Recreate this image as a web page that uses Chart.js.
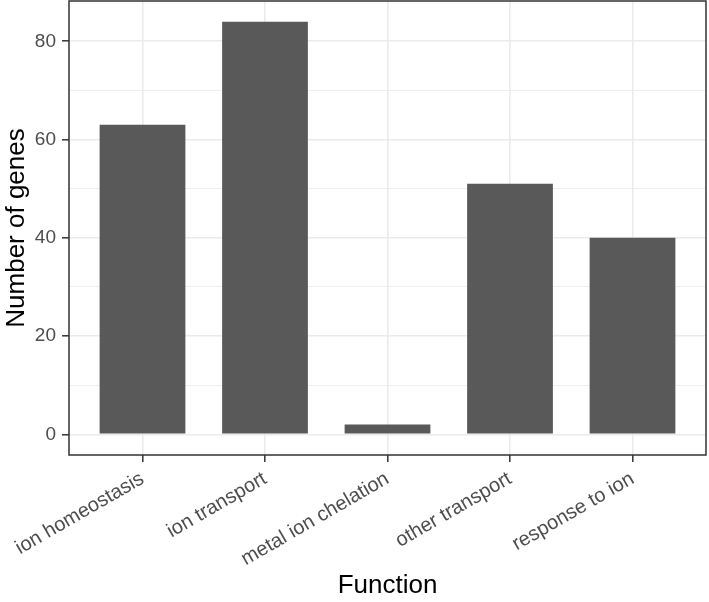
<!DOCTYPE html>
<html>
<head>
<meta charset="utf-8">
<script src="https://cdn.jsdelivr.net/npm/chart.js@4"></script>
<style>
  html, body { margin: 0; padding: 0; background: #fff; }
  #chart { display: block; }
</style>
</head>
<body>
<canvas id="chart" width="709" height="602"></canvas>
<script>
const categories = ['ion homeostasis', 'ion transport', 'metal ion chelation', 'other transport', 'response to ion'];
const geneCounts = [63, 84, 2, 51, 40];
const yTicks = [0, 10, 20, 30, 40, 50, 60, 70, 80];
const yLabels = [0, 20, 40, 60, 80];

const fontFamily = "'Liberation Sans', Arial, Helvetica, sans-serif";

// panel border like ggplot theme_bw
const panelBorder = {
  id: 'panelBorder',
  afterDraw(chart) {
    const a = chart.chartArea;
    const ctx = chart.ctx;
    ctx.save();
    ctx.strokeStyle = '#333333';
    ctx.lineWidth = 1.5;
    ctx.strokeRect(a.left, a.top, a.right - a.left, a.bottom - a.top);
    ctx.restore();
  }
};

const ctx = document.getElementById('chart').getContext('2d');
const myChart = new Chart(ctx, {
  type: 'bar',
  data: {
    datasets: [{
      data: categories.map((c, i) => ({ x: i + 1, y: geneCounts[i] })),
      backgroundColor: '#595959',
      borderWidth: 0,
      barPercentage: 0.7,
      categoryPercentage: 1
    }]
  },
  plugins: [panelBorder],
  options: {
    responsive: false,
    animation: false,
    devicePixelRatio: 1,
    layout: { padding: { top: 1, right: 3, left: 0, bottom: 0 } },
    plugins: { legend: { display: false }, tooltip: { enabled: false } },
    scales: {
      x: {
        type: 'linear',
        offset: false,
        min: 0.4,
        max: 5.6,
        afterBuildTicks: scale => { scale.ticks = categories.map((c, i) => ({ value: i + 1 })); },
        afterFit: scale => {
          scale.height = 147;
          scale.paddingLeft = 0;
          scale.paddingRight = 0;
        },
        border: { display: false },
        grid: {
          offset: false,
          color: '#ebebeb',
          lineWidth: 1.6,
          tickColor: '#333333',
          tickLength: 7,
          tickWidth: 1.5
        },
        ticks: {
          autoSkip: false,
          minRotation: 30,
          maxRotation: 30,
          padding: 5,
          color: '#4d4d4d',
          font: { family: fontFamily, size: 20 },
          callback: v => categories[v - 1]
        },
        title: {
          display: true,
          text: 'Function',
          color: '#000000',
          font: { family: fontFamily, size: 26 },
          padding: { top: 0, bottom: 1 }
        }
      },
      y: {
        type: 'linear',
        min: -4.2,
        max: 88.2,
        afterBuildTicks: scale => { scale.ticks = yTicks.map(v => ({ value: v })); },
        afterFit: scale => {
          scale.width = 69;
          scale.paddingTop = 0;
          scale.paddingBottom = 0;
        },
        border: { display: false },
        grid: {
          color: '#ebebeb',
          lineWidth: c => yLabels.includes(c.tick.value) ? 1.6 : 0.8,
          tickColor: c => yLabels.includes(c.tick.value) ? '#333333' : 'rgba(0,0,0,0)',
          tickLength: 7,
          tickWidth: 1.5
        },
        ticks: {
          padding: 6,
          color: '#4d4d4d',
          font: { family: fontFamily, size: 19 },
          callback: v => yLabels.includes(v) ? String(v) : ''
        },
        title: {
          display: true,
          text: 'Number of genes',
          color: '#000000',
          font: { family: fontFamily, size: 26 },
          padding: { top: 1, bottom: 0 }
        }
      }
    }
  }
});
</script>
</body>
</html>
